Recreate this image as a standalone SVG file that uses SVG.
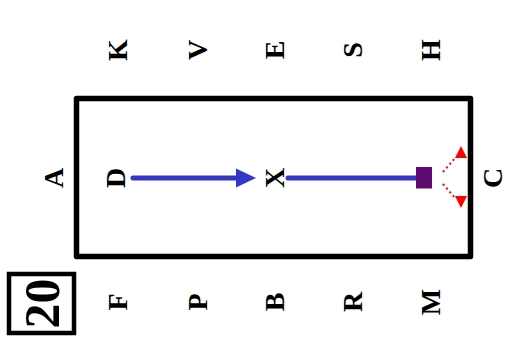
<svg xmlns="http://www.w3.org/2000/svg" width="526" height="338" viewBox="0 0 526 338">
<style>
.l{font-family:"Liberation Serif",serif;font-weight:bold;font-size:28px;fill:#000;text-anchor:middle}
.n{font-family:"Liberation Serif",serif;font-weight:bold;font-size:50px;fill:#000;text-anchor:middle}
</style>
<defs>
<marker id="bh" viewBox="0 0 10 10" refX="10" refY="5" markerWidth="3.6" markerHeight="3.6" markerUnits="strokeWidth" orient="auto"><path d="M0,0L10,5L0,10Z" fill="#3535c8"/></marker>
</defs>
<rect width="526" height="338" fill="#fff"/>
<g id="arena"><rect x="76.5" y="98.5" width="394" height="158" fill="none" stroke="#000" stroke-width="5.5" stroke-linejoin="round"/></g>
<g id="number"><rect x="9" y="274" width="65" height="59" fill="none" stroke="#000" stroke-width="4.5"/><text class="n" transform="translate(41.5,303.5) rotate(-90)" dy="0.34em">20</text></g>
<g id="letters">
<g id="K"><text class="l" transform="translate(117,50) rotate(-90)" dy="0.34em">K</text></g>
<g id="V"><text class="l" transform="translate(197,50) rotate(-90)" dy="0.34em">V</text></g>
<g id="E"><text class="l" transform="translate(274,50) rotate(-90)" dy="0.34em">E</text></g>
<g id="S"><text class="l" transform="translate(352,50) rotate(-90)" dy="0.34em">S</text></g>
<g id="H"><text class="l" transform="translate(430,50) rotate(-90)" dy="0.34em">H</text></g>
<g id="F"><text class="l" transform="translate(117,302) rotate(-90)" dy="0.34em">F</text></g>
<g id="P"><text class="l" transform="translate(197,302) rotate(-90)" dy="0.34em">P</text></g>
<g id="B"><text class="l" transform="translate(274,302) rotate(-90)" dy="0.34em">B</text></g>
<g id="R"><text class="l" transform="translate(352,302) rotate(-90)" dy="0.34em">R</text></g>
<g id="M"><text class="l" transform="translate(430,302) rotate(-90)" dy="0.34em">M</text></g>
<g id="A"><text class="l" transform="translate(53,178) rotate(-90)" dy="0.34em">A</text></g>
<g id="C"><text class="l" transform="translate(492,178) rotate(-90)" dy="0.34em">C</text></g>
<g id="D"><text class="l" transform="translate(115,178) rotate(-90)" dy="0.34em">D</text></g>
<g id="X"><text class="l" transform="translate(274,178) rotate(-90)" dy="0.34em">X</text></g>
</g>
<g id="connectors">
<line x1="133" y1="178" x2="237" y2="178" stroke="#3535c8" stroke-width="5" stroke-linecap="round"/>
<path d="M236,168.5L256,178L236,187.5Z" fill="#3535c8"/>
<line x1="288" y1="178" x2="418" y2="178" stroke="#3535c8" stroke-width="5" stroke-linecap="round"/>
<path d="M443,172L456,157" fill="none" stroke="#ff0000" stroke-width="2" stroke-dasharray="2,3"/>
<path d="M443,184L456,199" fill="none" stroke="#ff0000" stroke-width="2" stroke-dasharray="2,3"/>
<path d="M461,146L467,158L455,158Z" fill="#ff0000"/>
<path d="M461,208L467,196L455,196Z" fill="#ff0000"/>
</g>
<g id="block"><rect x="416" y="167" width="16" height="21.5" fill="#5e0a70"/></g>
</svg>
